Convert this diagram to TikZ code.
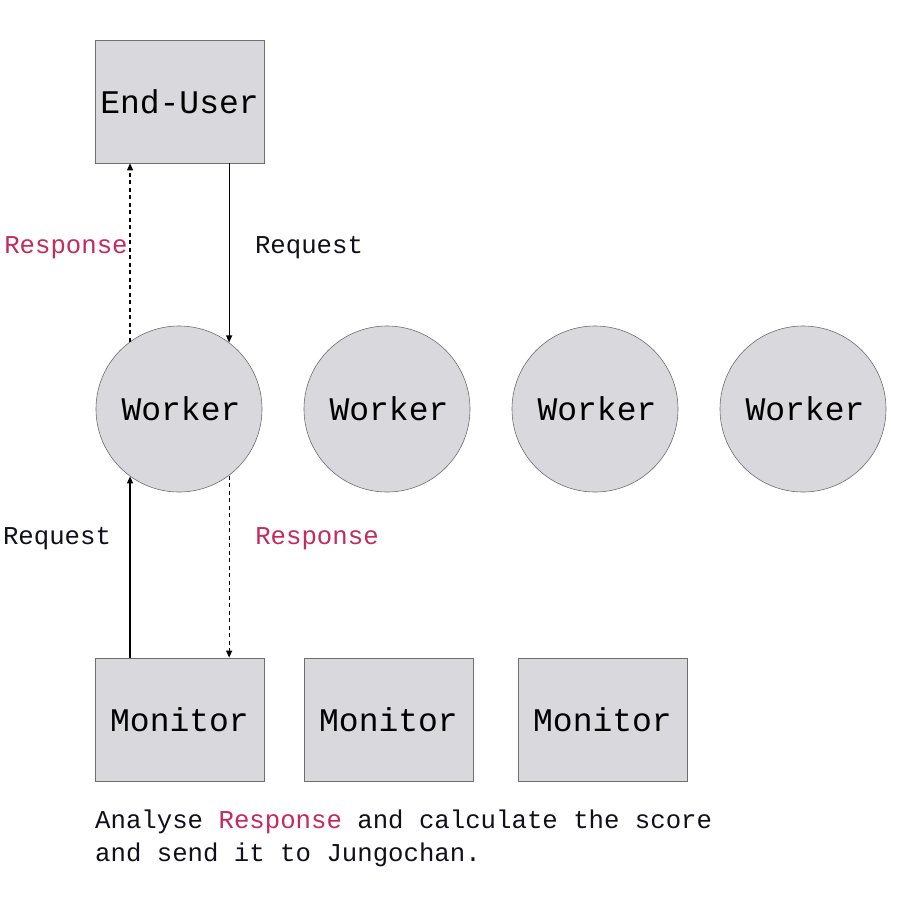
\documentclass[tikz,border=0pt]{standalone}
\usepackage{fontspec}
\setmainfont{Liberation Mono}
\usetikzlibrary{arrows.meta}
\definecolor{boxfill}{HTML}{D9D8DD}
\definecolor{boxline}{HTML}{6E6E6E}
\definecolor{resp}{HTML}{C42A5C}
\definecolor{ink}{HTML}{10101A}
\tikzset{
  box/.style={draw=boxline, fill=boxfill, line width=0.8pt, minimum width=169pt, minimum height=123pt, inner sep=0pt, font=\fontsize{33}{36}\selectfont, text=black},
  wcircle/.style={draw=boxline, fill=boxfill, line width=0.6pt, circle, minimum size=166pt, inner sep=0pt, font=\fontsize{33}{36}\selectfont, text=black},
  lbl/.style={font=\fontsize{25.7}{30}\selectfont, inner sep=0pt},
  req/.style={line width=1.1pt, draw=black, -{Triangle[length=7pt,width=6pt]}},
  res/.style={line width=1.2pt, draw=black, dash pattern=on 4pt off 3.5pt, -{Triangle[length=7pt,width=6pt]}}
}
\begin{document}
\begin{tikzpicture}[x=1pt,y=-1pt]
\useasboundingbox (0,0) rectangle (900,900);
\fill[white] (0,0) rectangle (900,900);
\node[box] (eu) at (179.5,101.5) {End-User};
\node[wcircle] (w1) at (179,409) {\hspace*{4pt}Worker};
\node[wcircle] (w2) at (387,409) {\hspace*{4pt}Worker};
\node[wcircle] (w3) at (595,409) {\hspace*{4pt}Worker};
\node[wcircle] (w4) at (803,409) {\hspace*{4pt}Worker};
\node[box] (m1) at (179.5,719.5) {Monitor};
\node[box] (m2) at (388.5,719.5) {Monitor};
\node[box] (m3) at (602.5,719.5) {Monitor};
\draw[res] (w1.126) -- (w1.126 |- eu.south);
\draw[req] (w1.53 |- eu.south) -- (w1.53);
\draw[req] (w1.126 |- m1.north) -- (w1.234);
\draw[res] (w1.307) -- (w1.307 |- m1.north);
\node[lbl, text=resp] (l1) at (66,248) {Response};
\node[lbl, text=ink] (l2) at (309,248) {Request};
\node[lbl, text=ink] (l3) at (57,539) {Request};
\node[lbl, text=resp] (l4) at (317,539) {Response};
\node[lbl, anchor=base west, text=ink] (t1) at (95,828) {Analyse \textcolor{resp}{Response} and calculate the score};
\node[lbl, anchor=base west, text=ink] (t2) at (95,861) {and send it to Jungochan.};
\end{tikzpicture}
\end{document}
